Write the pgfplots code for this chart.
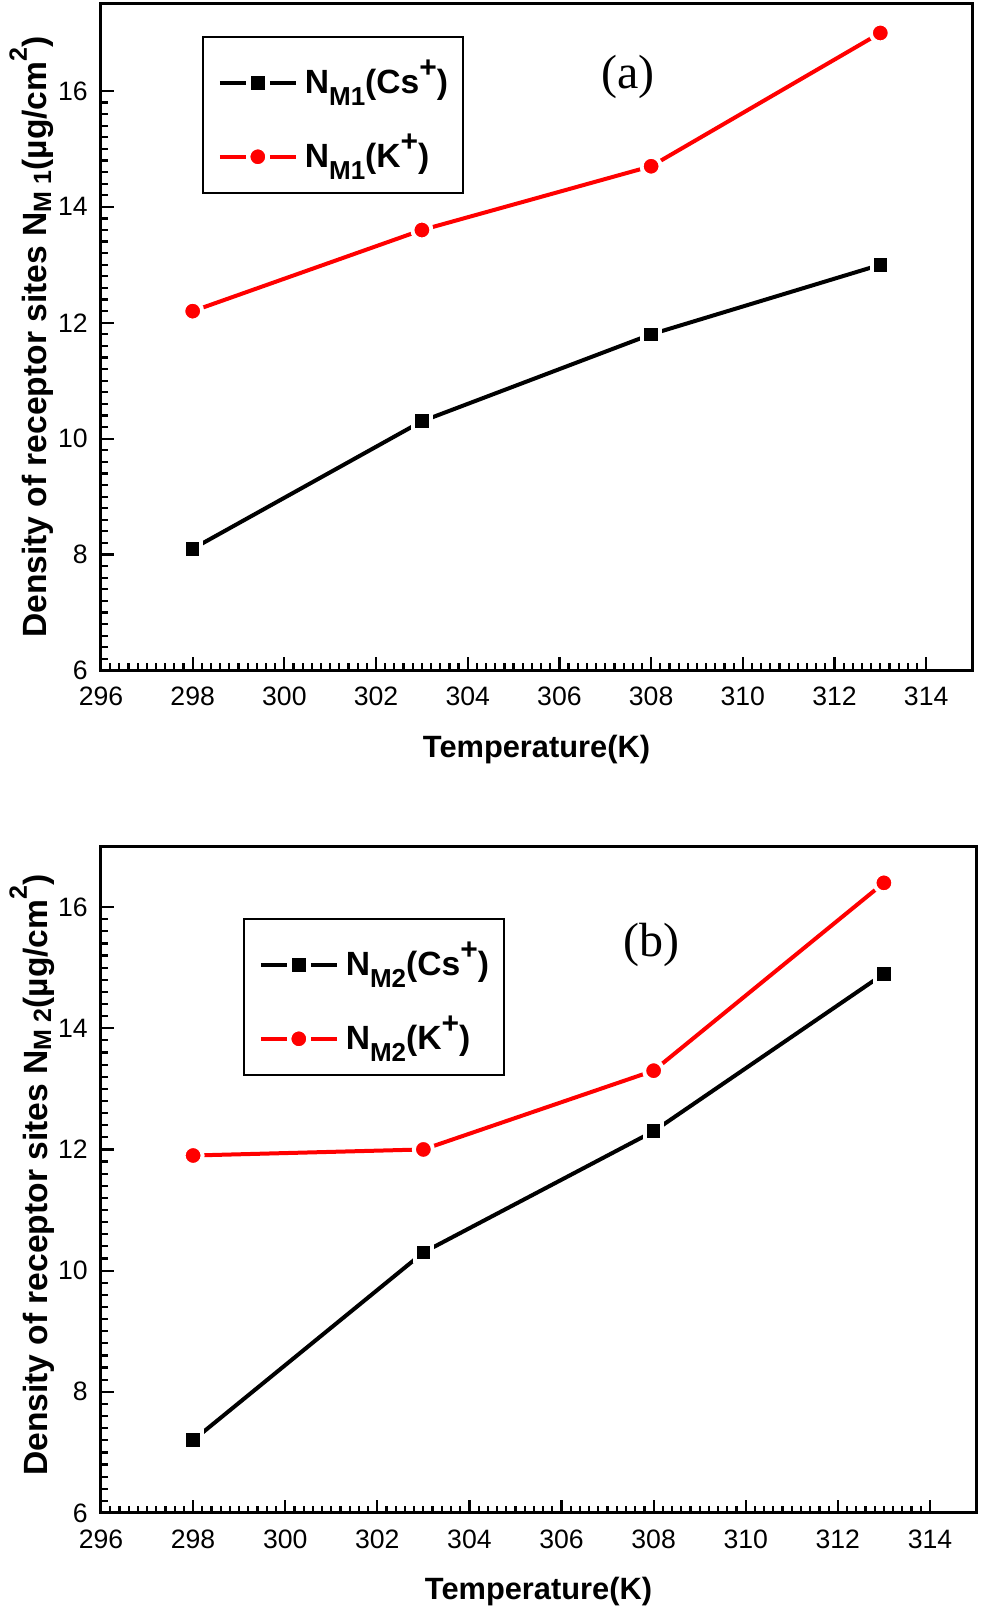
\documentclass[border=0pt]{standalone}
\usepackage{fontspec}
\setmainfont{Liberation Sans}
\newfontfamily\seriffont{Liberation Serif}
\usepackage{graphicx}
\usepackage{pgfplots}
\pgfplotsset{compat=1.18}

\newcommand\lsub[1]{\raisebox{-0.36em}{\fontsize{13}{13}\selectfont #1}}
\newcommand\lsup[1]{\raisebox{0.48em}{\fontsize{15}{15}\selectfont #1}}
\newcommand\ysub[1]{\raisebox{-0.12em}{\fontsize{12.5}{12.5}\selectfont #1}}
\newcommand\ysup[1]{\raisebox{0.6em}{\fontsize{12.5}{12.5}\selectfont #1}}

\pgfplotstableread{
T   cs1   k1    cs2   k2
298 8.1   12.2  7.2   11.9
303 10.3  13.6  10.3  12.0
308 11.8  14.7  12.3  13.3
313 13.0  17.0  14.9  16.4
}\datatab

\pgfplotsset{
  myaxis/.style={
    scale only axis,
    anchor=south west,
    xmin=296, xmax=315,
    ymin=6,
    xtick={296,298,...,314},
    ytick={6,8,...,16},
    minor x tick num=9,
    minor y tick num=9,
    tick align=inside,
    xtick pos=left, ytick pos=left,
    major tick length=6.5pt,
    minor tick length=3.5pt,
    tick style={line width=1.1pt, black},
    axis line style={line width=1.5pt},
    /pgf/number format/assume math mode=true,
    tick label style={font=\fontsize{13.3}{14}\selectfont},
    xticklabel style={anchor=north, inner sep=0pt, yshift=-8.25pt},
    yticklabel style={anchor=east, inner sep=0pt, xshift=-6.5pt},
    every axis x label/.style={at={(axis description cs:0.5,-0.1298)}, anchor=base,
      font=\bfseries\fontsize{15.4}{16}\selectfont},
    xlabel={Temperature(K)},
    legend image code/.code={
      \draw[##1, mark=none] (0pt,5.5pt) -- (13pt,5.5pt);
      \draw[##1, mark=none] (25pt,5.5pt) -- (38pt,5.5pt);
      \draw[##1, only marks] plot coordinates {(19pt,5.5pt)};
    },
  },
  mylegend/.style={
    legend style={draw=black, line width=0.8pt, inner xsep=7.5pt, inner ysep=0pt,
      font=\bfseries\fontsize{16.8}{17}\selectfont, row sep=-4pt,
      nodes={inner sep=0pt, text height=28.5pt, text depth=12.5pt},
      cells={anchor=base west},
      /tikz/every odd column/.append style={column sep=3.5pt}},
  },
  csplot/.style={color=black, line width=2pt, mark=square*, mark size=4.4pt,
    mark options={draw=white, fill=black, line width=2pt}},
  kplot/.style={color=red, line width=2pt, mark=*, mark size=4.75pt,
    mark options={draw=white, fill=red, line width=2pt}},
}

\begin{document}
\begin{tikzpicture}
\useasboundingbox (0,0) rectangle (490pt,805pt);

\begin{axis}[myaxis, mylegend,
  at={(50.5pt,469.75pt)}, width=435.5pt, height=333.25pt,
  ymax=17.5,
  every axis y label/.style={at={(axis description cs:-0.062,0.0383)}, anchor=base west, rotate=90,
    font=\bfseries\fontsize{16.8}{17}\selectfont},
  ylabel={Density of receptor sites N\ysub{M 1}(µg/cm\ysup{2})},
  legend style={at={(rel axis cs:0.116,0.952)}, anchor=north west},
]
\addplot[csplot] table[x=T, y=cs1] {\datatab};
\addlegendentry{N\lsub{M1}(Cs\lsup{+})}
\addplot[kplot] table[x=T, y=k1] {\datatab};
\addlegendentry{N\lsub{M1}(K\lsup{+})}
\node[font=\seriffont\fontsize{24}{24}\selectfont] at (axis cs:307.5,16.24) {(a)};
\end{axis}

\begin{axis}[myaxis, mylegend,
  at={(50.5pt,48.5pt)}, width=437.5pt, height=333.25pt,
  ymax=17,
  every axis y label/.style={at={(axis description cs:-0.0617,0.045)}, anchor=base west, rotate=90,
    font=\bfseries\fontsize{16.8}{17}\selectfont},
  ylabel={Density of receptor sites N\ysub{M 2}(µg/cm\ysup{2})},
  legend style={at={(rel axis cs:0.1623,0.8927)}, anchor=north west},
]
\addplot[csplot] table[x=T, y=cs2] {\datatab};
\addlegendentry{N\lsub{M2}(Cs\lsup{+})}
\addplot[kplot] table[x=T, y=k2] {\datatab};
\addlegendentry{N\lsub{M2}(K\lsup{+})}
\node[font=\seriffont\fontsize{24}{24}\selectfont] at (axis cs:307.96,15.38) {(b)};
\end{axis}
\end{tikzpicture}
\end{document}
